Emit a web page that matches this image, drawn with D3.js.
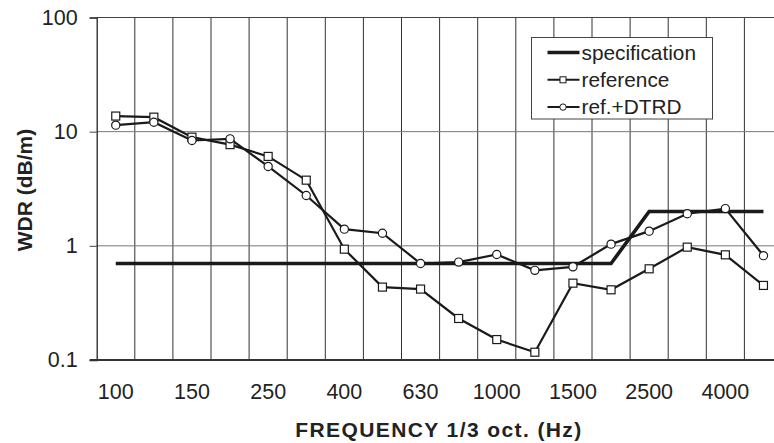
<!DOCTYPE html>
<html>
<head>
<meta charset="utf-8">
<script src="https://cdn.jsdelivr.net/npm/d3@7"></script>
<style>
  body { margin: 0; background: #fff; overflow: hidden; }
  svg { display: block; font-family: "Liberation Sans", Arial, sans-serif; }
</style>
</head>
<body>
<svg width="774" height="443"></svg>
<script>
const WIDTH = 774;
const HEIGHT = 443;
const PLOT = { left: 96.7, right: 782.5, top: 17.5, bottom: 360 };

// 1/3 octave band centres (Hz)
const bands = ["100", "125", "160", "200", "250", "315", "400", "500", "630",
  "800", "1000", "1250", "1600", "2000", "2500", "3150", "4000", "5000"];

// labelled bands and the text printed under them
const tickBands = ["100", "160", "250", "400", "630", "1000", "1600", "2500", "4000"];
const tickLabels = ["100", "150", "250", "400", "630", "1000", "1500", "2500", "4000"];

const yTicks = [0.1, 1, 10, 100];

// WDR in dB/m per band
const specification = [0.7, 0.7, 0.7, 0.7, 0.7, 0.7, 0.7, 0.7, 0.7,
  0.7, 0.7, 0.7, 0.7, 0.7, 2.0, 2.0, 2.0, 2.0];
const reference = [13.7, 13.4, 8.95, 7.7, 6.07, 3.76, 0.935, 0.435, 0.418,
  0.231, 0.151, 0.117, 0.471, 0.412, 0.629, 0.974, 0.834, 0.45];
const refDTRD = [11.4, 12.1, 8.37, 8.65, 4.96, 2.76, 1.40, 1.29, 0.70,
  0.72, 0.84, 0.61, 0.655, 1.035, 1.345, 1.91, 2.12, 0.82];

const legendNames = ["specification", "reference", "ref.+DTRD"];

const svg = d3.select("svg");

const x = d3.scaleBand().domain(bands).range([PLOT.left, PLOT.right]).padding(0);
const y = d3.scaleLog().domain([0.1, 100]).range([PLOT.bottom, PLOT.top]);
const cx = (b) => x(b) + x.bandwidth() / 2;

// vertical grid at band edges
const edges = bands.map((b) => x(b)).concat([PLOT.right]);
svg.append("g")
  .selectAll("line")
  .data(edges.slice(1))
  .join("line")
  .attr("x1", (d) => d).attr("x2", (d) => d)
  .attr("y1", PLOT.top).attr("y2", PLOT.bottom)
  .attr("stroke", "#333").attr("stroke-width", 1);

// horizontal grid at each decade
svg.append("g")
  .selectAll("line")
  .data(yTicks.slice(1, -1))
  .join("line")
  .attr("x1", PLOT.left).attr("x2", PLOT.right)
  .attr("y1", (d) => y(d)).attr("y2", (d) => y(d))
  .attr("stroke", "#777").attr("stroke-width", 1);

// top border
svg.append("line")
  .attr("x1", PLOT.left).attr("x2", PLOT.right)
  .attr("y1", PLOT.top).attr("y2", PLOT.top)
  .attr("stroke", "#444").attr("stroke-width", 1);

// y axis
const yAxis = svg.append("g")
  .attr("transform", `translate(${PLOT.left},0)`)
  .call(d3.axisLeft(y).tickValues(yTicks).tickFormat((d) => String(d)).tickSize(7).tickPadding(12));
yAxis.select(".domain").attr("stroke", "#222").attr("stroke-width", 1.3);
yAxis.selectAll(".tick line").attr("stroke", "#444");
yAxis.selectAll("text")
  .attr("font-size", 21.5)
  .attr("fill", "#222")
  .attr("font-family", "Liberation Sans, Arial, sans-serif");

// x axis
const xAxis = svg.append("g")
  .attr("transform", `translate(0,${PLOT.bottom})`)
  .call(d3.axisBottom(x).tickValues(tickBands)
    .tickFormat((d) => tickLabels[tickBands.indexOf(d)]).tickSize(0).tickPadding(24));
xAxis.select(".domain").remove();
xAxis.selectAll("text")
  .attr("font-size", 21.5)
  .attr("fill", "#222")
  .attr("font-family", "Liberation Sans, Arial, sans-serif");
svg.append("line")
  .attr("x1", PLOT.left - 7).attr("x2", PLOT.right)
  .attr("y1", PLOT.bottom).attr("y2", PLOT.bottom)
  .attr("stroke", "#333").attr("stroke-width", 1.8);

// axis titles
svg.append("text")
  .attr("transform", `translate(32,190) rotate(-90)`)
  .attr("text-anchor", "middle")
  .attr("font-size", 21)
  .attr("font-weight", "bold")
  .attr("fill", "#222")
  .text("WDR (dB/m)");

svg.append("text")
  .attr("x", 439).attr("y", 437)
  .attr("text-anchor", "middle")
  .attr("font-size", 21)
  .attr("font-weight", "bold")
  .attr("letter-spacing", 1.4)
  .attr("fill", "#222")
  .text("FREQUENCY 1/3 oct. (Hz)");

const line = d3.line().x((d, i) => cx(bands[i])).y((d) => y(d));

// series
svg.append("path")
  .attr("d", line(specification))
  .attr("fill", "none").attr("stroke", "#1a1a1a").attr("stroke-width", 3.6);

svg.append("path")
  .attr("d", line(reference))
  .attr("fill", "none").attr("stroke", "#1a1a1a").attr("stroke-width", 2.2);

svg.append("path")
  .attr("d", line(refDTRD))
  .attr("fill", "none").attr("stroke", "#1a1a1a").attr("stroke-width", 2.2);

svg.append("g")
  .selectAll("rect")
  .data(reference)
  .join("rect")
  .attr("x", (d, i) => cx(bands[i]) - 4)
  .attr("y", (d) => y(d) - 4)
  .attr("width", 8).attr("height", 8)
  .attr("fill", "#fff").attr("stroke", "#1a1a1a").attr("stroke-width", 1.2);

svg.append("g")
  .selectAll("circle")
  .data(refDTRD)
  .join("circle")
  .attr("cx", (d, i) => cx(bands[i]))
  .attr("cy", (d) => y(d))
  .attr("r", 4.1)
  .attr("fill", "#fff").attr("stroke", "#1a1a1a").attr("stroke-width", 1.2);

// legend
const legend = svg.append("g").attr("transform", "translate(531.5,37.5)");
legend.append("rect")
  .attr("width", 181).attr("height", 81.5)
  .attr("fill", "#fff").attr("stroke", "#444").attr("stroke-width", 1);

const rows = legend.selectAll("g.row")
  .data(legendNames)
  .join("g")
  .attr("class", "row")
  .attr("transform", (d, i) => `translate(0,${15 + i * 27.3})`);

rows.append("line")
  .attr("x1", 16).attr("x2", 48)
  .attr("stroke", "#1a1a1a")
  .attr("stroke-width", (d, i) => (i === 0 ? 3.6 : 2));

rows.filter((d, i) => i === 1).append("rect")
  .attr("x", 28.5).attr("y", -3).attr("width", 6).attr("height", 6)
  .attr("fill", "#fff").attr("stroke", "#1a1a1a").attr("stroke-width", 1);

rows.filter((d, i) => i === 2).append("circle")
  .attr("cx", 31.5).attr("r", 3.2)
  .attr("fill", "#fff").attr("stroke", "#1a1a1a").attr("stroke-width", 1);

rows.append("text")
  .attr("x", 50).attr("y", 7)
  .attr("font-size", 20.8)
  .attr("fill", "#222")
  .text((d) => d);
</script>
</body>
</html>
